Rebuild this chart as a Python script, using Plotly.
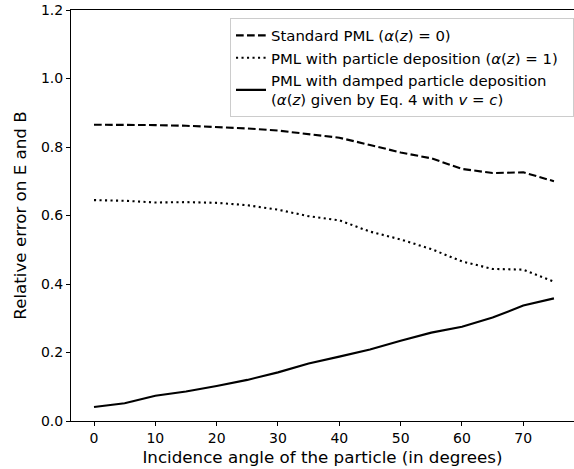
import plotly.graph_objects as go

angles = [0, 5, 10, 15, 20, 25, 30, 35, 40, 45, 50, 55, 60, 65, 70, 75]
standard_pml = [0.865, 0.865, 0.864, 0.862, 0.859, 0.854, 0.848, 0.838, 0.827, 0.806, 0.784, 0.767, 0.736, 0.724, 0.726, 0.700]
particle_dep = [0.645, 0.643, 0.638, 0.639, 0.637, 0.630, 0.617, 0.598, 0.586, 0.553, 0.530, 0.502, 0.466, 0.444, 0.442, 0.407]
damped_dep = [0.041, 0.052, 0.074, 0.086, 0.102, 0.120, 0.142, 0.168, 0.188, 0.209, 0.234, 0.258, 0.275, 0.302, 0.337, 0.358]

names = [
    "Standard PML (<i>α</i>(<i>z</i>) = 0)",
    "PML with particle deposition (<i>α</i>(<i>z</i>) = 1)  ",
    "PML with damped particle deposition<br>(<i>α</i>(<i>z</i>) given by Eq. 4 with <i>v</i> = <i>c</i>)",
]

FONT = "DejaVu Sans"
fig = go.Figure()
fig.add_trace(go.Scatter(x=angles, y=standard_pml, mode="lines", name=names[0],
                         line=dict(color="black", width=2.1, dash="7.7px,3.3px")))
fig.add_trace(go.Scatter(x=angles, y=particle_dep, mode="lines", name=names[1],
                         line=dict(color="black", width=2.1, dash="2.1px,3.4px")))
fig.add_trace(go.Scatter(x=angles, y=damped_dep, mode="lines", name=names[2],
                         line=dict(color="black", width=2.1)))

fig.update_layout(
    width=574, height=469,
    margin=dict(l=71, r=0, t=10, b=48),
    plot_bgcolor="white", paper_bgcolor="white",
    font=dict(family=FONT, size=14, color="black"),
    showlegend=True,
    legend=dict(x=1.0, y=0.98, xanchor="right", yanchor="top",
                bgcolor="rgba(255,255,255,0.8)", bordercolor="#cccccc", borderwidth=1,
                font=dict(family=FONT, size=14.9, color="black"),
                itemwidth=30),
    xaxis=dict(range=[-3.75, 78.27], tickvals=[0, 10, 20, 30, 40, 50, 60, 70],
               showgrid=False, zeroline=False, showline=True, linecolor="black", linewidth=1,
               mirror=True, ticks="outside", ticklen=4, tickcolor="black", tickwidth=1,
               tickfont=dict(size=14),
               title=dict(text="Incidence angle of the particle (in degrees)",
                          font=dict(size=16.7), standoff=6)),
    yaxis=dict(range=[0, 1.2], tickvals=[0, 0.2, 0.4, 0.6, 0.8, 1.0, 1.2],
               ticktext=["0.0", "0.2", "0.4", "0.6", "0.8", "1.0", "1.2"],
               showgrid=False, zeroline=False, showline=True, linecolor="black", linewidth=1,
               ticks="outside", ticklen=4, tickcolor="black", tickwidth=1,
               tickfont=dict(size=14),
               title=dict(text="Relative error on E and B", font=dict(size=16.7), standoff=10)),
)

fig.write_html("out.html", config={"displayModeBar": False},
               post_script="document.body.style.margin='0';document.body.style.padding='0';")
